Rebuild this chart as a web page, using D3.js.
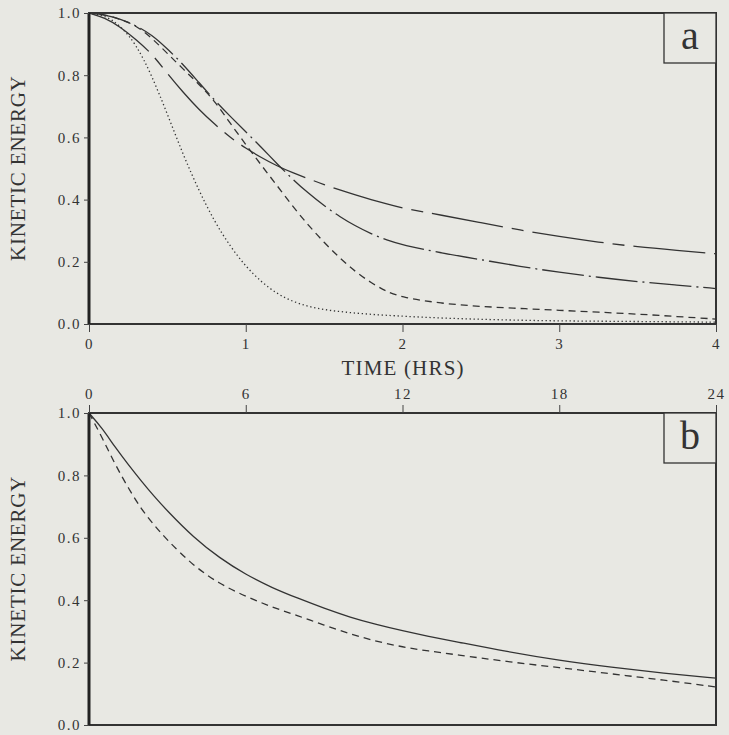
<!DOCTYPE html>
<html>
<head>
<meta charset="utf-8">
<script src="https://cdn.jsdelivr.net/npm/d3@7"></script>
<style>
  body { margin: 0; background: #e8e8e3; }
  svg { display: block; }
  .tick text { font-family: "Liberation Serif", "DejaVu Serif", "Times New Roman", "Noto Serif", Tinos, FreeSerif, serif; font-size: 15px; fill: #333; letter-spacing: 1.5px; }
  .tick line { stroke: #444; }
  .lbl { font-family: "Liberation Serif", "DejaVu Serif", "Times New Roman", "Noto Serif", Tinos, FreeSerif, serif; fill: #333; }
</style>
</head>
<body>
<div id="chart"></div>
<script>
// panel a: time in hours
var hoursA = [0, 0.1, 0.2, 0.3, 0.4, 0.5, 0.6, 0.7, 0.8, 0.9, 1.0, 1.1, 1.2, 1.3, 1.4, 1.5, 1.6, 1.7, 1.8, 1.9, 2.0, 2.25, 2.5, 2.75, 3.0, 3.25, 3.5, 3.75, 4.0];
var dotted    = [1.0, 0.993, 0.96, 0.90, 0.80, 0.675, 0.545, 0.43, 0.33, 0.25, 0.185, 0.135, 0.097, 0.072, 0.056, 0.046, 0.04, 0.035, 0.031, 0.028, 0.025, 0.019, 0.015, 0.012, 0.010, 0.009, 0.008, 0.007, 0.006];
var shortDash = [1.0, 0.995, 0.98, 0.96, 0.92, 0.87, 0.82, 0.772, 0.718, 0.646, 0.577, 0.51, 0.445, 0.378, 0.317, 0.262, 0.212, 0.168, 0.132, 0.104, 0.085, 0.066, 0.056, 0.05, 0.044, 0.038, 0.032, 0.024, 0.016];
var dashDot   = [1.0, 0.995, 0.98, 0.96, 0.93, 0.885, 0.835, 0.777, 0.72, 0.668, 0.618, 0.568, 0.515, 0.465, 0.42, 0.38, 0.345, 0.315, 0.29, 0.27, 0.254, 0.228, 0.207, 0.185, 0.166, 0.15, 0.136, 0.125, 0.114];
var longDash  = [1.0, 0.985, 0.955, 0.915, 0.87, 0.805, 0.745, 0.69, 0.643, 0.60, 0.565, 0.535, 0.508, 0.486, 0.467, 0.448, 0.431, 0.415, 0.40, 0.386, 0.372, 0.35, 0.326, 0.302, 0.281, 0.263, 0.248, 0.237, 0.226];

// panel b: time in hours, longer run
var hoursB = [0, 0.5, 1, 1.5, 2, 2.5, 3, 4, 5, 6, 7, 8, 9, 10, 11, 12, 13, 14, 16, 18, 20, 22, 24];
var solidB  = [1.0, 0.952, 0.89, 0.835, 0.782, 0.732, 0.686, 0.601, 0.535, 0.482, 0.44, 0.406, 0.374, 0.345, 0.322, 0.302, 0.284, 0.268, 0.235, 0.207, 0.185, 0.166, 0.15];
var dashedB = [1.0, 0.922, 0.835, 0.76, 0.692, 0.64, 0.592, 0.51, 0.452, 0.412, 0.378, 0.35, 0.32, 0.292, 0.268, 0.25, 0.237, 0.226, 0.203, 0.184, 0.164, 0.144, 0.122];

var yTicks = [0, 0.2, 0.4, 0.6, 0.8, 1.0];
var xTicksA = [0, 1, 2, 3, 4];
var xTicksB = [0, 6, 12, 18, 24];

var width = 729, height = 735;
var left = 89, right = 716;

var svg = d3.select("#chart").append("svg").attr("width", width).attr("height", height);
svg.append("rect").attr("width", width).attr("height", height).attr("fill", "#e8e8e3");

var xA = d3.scaleLinear().domain([0, 4]).range([left, right]);
var yA = d3.scaleLinear().domain([0, 1]).range([324, 13]);
var xB = d3.scaleLinear().domain([0, 24]).range([left, right]);
var yB = d3.scaleLinear().domain([0, 1]).range([725, 413]);

function yAxis(y) {
    var g = svg.append("g").attr("transform", "translate(" + left + ",0)")
        .call(d3.axisLeft(y).tickValues(yTicks).tickSize(5).tickPadding(3).tickFormat(d3.format(".1f")));
    g.select(".domain").remove();
    g.attr("font-family", null);
}

function frame(x, y) {
    svg.append("rect").attr("x", x.range()[0]).attr("y", y.range()[1])
        .attr("width", x.range()[1] - x.range()[0]).attr("height", y.range()[0] - y.range()[1])
        .attr("fill", "none").attr("stroke", "#333").attr("stroke-width", 2);
    svg.append("line").attr("x1", x.range()[0]).attr("x2", x.range()[0])
        .attr("y1", y.range()[1]).attr("y2", y.range()[0])
        .attr("stroke", "#222").attr("stroke-width", 3);
}

function curve(x, y, xs, ys, dash) {
    var line = d3.line().x(function(d, i) { return x(xs[i]); }).y(function(d) { return y(d); }).curve(d3.curveBasis);
    svg.append("path").datum(ys).attr("d", line).attr("fill", "none")
        .attr("stroke", "#333").attr("stroke-width", 1.3)
        .attr("stroke-dasharray", dash);
}

function panelTag(x, y, txt) {
    svg.append("rect").attr("x", x.range()[1] - 52).attr("y", y.range()[1])
        .attr("width", 52).attr("height", 50)
        .attr("fill", "#e8e8e3").attr("stroke", "#333").attr("stroke-width", 1.3);
    svg.append("text").attr("class", "lbl").attr("x", x.range()[1] - 26).attr("y", y.range()[1] + 36)
        .attr("text-anchor", "middle").style("font-size", "40px").text(txt);
}

function yLabel(y) {
    var cy = (y.range()[0] + y.range()[1]) / 2;
    svg.append("text").attr("class", "lbl").attr("transform", "translate(25," + cy + ") rotate(-90)")
        .attr("text-anchor", "middle").style("font-size", "21px")
        .attr("textLength", 185).text("KINETIC ENERGY");
}

// ---- panel a
curve(xA, yA, hoursA, dotted, "1.3,2.7");
curve(xA, yA, hoursA, shortDash, "7,5");
curve(xA, yA, hoursA, dashDot, "42,5,2,5");
curve(xA, yA, hoursA, longDash, "72,9,12,9");
frame(xA, yA);
yAxis(yA);
var gxa = svg.append("g").attr("transform", "translate(0,324)")
    .call(d3.axisBottom(xA).tickValues(xTicksA).tickSize(8).tickPadding(6).tickFormat(d3.format("d")));
gxa.select(".domain").remove();
gxa.attr("font-family", null);
panelTag(xA, yA, "a");
yLabel(yA);
svg.append("text").attr("class", "lbl").attr("x", (left + right) / 2).attr("y", 375)
    .attr("text-anchor", "middle").style("font-size", "21px")
    .attr("textLength", 122).text("TIME (HRS)");

// ---- panel b
curve(xB, yB, hoursB, solidB, null);
curve(xB, yB, hoursB, dashedB, "7,5");
frame(xB, yB);
yAxis(yB);
var gxb = svg.append("g").attr("transform", "translate(0,413)")
    .call(d3.axisTop(xB).tickValues(xTicksB).tickSize(8).tickPadding(6).tickFormat(d3.format("d")));
gxb.select(".domain").remove();
gxb.attr("font-family", null);
panelTag(xB, yB, "b");
yLabel(yB);
</script>
</body>
</html>
